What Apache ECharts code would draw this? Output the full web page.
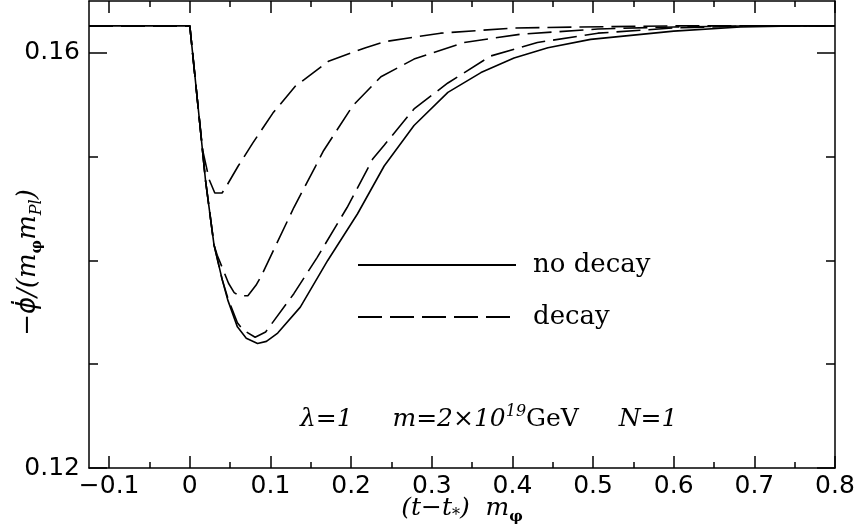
<!DOCTYPE html>
<html>
<head>
<meta charset="utf-8">
<script src="https://cdn.jsdelivr.net/npm/echarts@6/dist/echarts.min.js"></script>
<style>
  html, body { margin: 0; padding: 0; background: #fff; }
  #myChart { width: 860px; height: 529px; }
</style>
</head>
<body>
<div id="myChart"></div>
<script>
// tick positions
const xMajor = [-0.1, 0, 0.1, 0.2, 0.3, 0.4, 0.5, 0.6, 0.7, 0.8];
const xMinor = [-0.05, 0.05, 0.15, 0.25, 0.35, 0.45, 0.55, 0.65, 0.75];
const yMajor = [0.12, 0.16];
const yMinor = [0.13, 0.14, 0.15];

// no decay (solid)
const solidT = [-0.125, 0, 0.01, 0.0195, 0.03, 0.04, 0.047, 0.059, 0.07, 0.084, 0.095, 0.109, 0.137, 0.171, 0.208, 0.241, 0.278, 0.32, 0.361, 0.402, 0.444, 0.497, 0.6, 0.683, 0.75, 0.8];
const solidV = [0.1626, 0.1626, 0.1550, 0.1477, 0.1415, 0.1382, 0.1362, 0.1336, 0.1325, 0.1320, 0.1322, 0.1330, 0.1355, 0.1400, 0.1445, 0.1491, 0.1530, 0.1562, 0.1581, 0.1595, 0.1605, 0.1613, 0.1621, 0.1625, 0.1626, 0.1626];

// decay curves (dashed)
const decayAT = [-0.125, 0, 0.01, 0.016, 0.024, 0.031, 0.04, 0.045, 0.06, 0.078, 0.103, 0.131, 0.172, 0.218, 0.243, 0.311, 0.402, 0.485, 0.6, 0.8];
const decayAV = [0.1626, 0.1626, 0.1550, 0.1506, 0.1478, 0.1465, 0.1465, 0.1471, 0.1491, 0.1513, 0.1542, 0.1568, 0.1592, 0.1605, 0.1611, 0.1619, 0.1624, 0.1625, 0.1626, 0.1626];

const decayBT = [-0.125, 0, 0.01, 0.0195, 0.03, 0.034, 0.048, 0.055, 0.061, 0.072, 0.082, 0.088, 0.129, 0.156, 0.166, 0.202, 0.237, 0.278, 0.34, 0.41, 0.506, 0.6, 0.7, 0.8];
const decayBV = [0.1626, 0.1626, 0.1550, 0.1477, 0.1415, 0.1405, 0.1378, 0.1369, 0.1366, 0.1366, 0.1376, 0.1384, 0.1451, 0.1491, 0.1506, 0.1549, 0.1577, 0.1594, 0.1610, 0.1618, 0.1623, 0.1625, 0.1626, 0.1626];

const decayCT = [-0.125, 0, 0.01, 0.0195, 0.03, 0.04, 0.047, 0.059, 0.066, 0.081, 0.094, 0.129, 0.158, 0.195, 0.227, 0.241, 0.278, 0.32, 0.373, 0.431, 0.506, 0.6, 0.7, 0.8];
const decayCV = [0.1626, 0.1626, 0.1550, 0.1477, 0.1415, 0.1382, 0.1364, 0.1340, 0.1333, 0.1326, 0.1331, 0.1368, 0.1403, 0.1451, 0.1498, 0.1511, 0.1546, 0.1571, 0.1597, 0.1610, 0.1619, 0.1624, 0.1626, 0.1626];

function pairs(t, v) {
  return t.map((x, i) => [x, v[i]]);
}

const black = '#000';
const serif = 'DejaVu Serif';
const sans = 'DejaVu Sans';
const XMIN = -0.125, XMAX = 0.8, YMIN = 0.12, YMAX = 0.165;

// one axis = one set of ticks (long or short), all on the same grid
function xAxisOf(pos, ticks, len, line) {
  return {
    type: 'value', position: pos, min: XMIN, max: XMAX,
    axisLine: { show: line, onZero: false, lineStyle: { color: black, width: 1.5 } },
    axisTick: { show: true, inside: true, length: len, customValues: ticks, lineStyle: { color: black, width: 1.5 } },
    axisLabel: { show: false },
    splitLine: { show: false }
  };
}
function yAxisOf(pos, ticks, len, line) {
  return {
    type: 'value', position: pos, min: YMIN, max: YMAX,
    axisLine: { show: line, onZero: false, lineStyle: { color: black, width: 1.5 } },
    axisTick: { show: true, inside: true, length: len, customValues: ticks, lineStyle: { color: black, width: 1.5 } },
    axisLabel: { show: false },
    splitLine: { show: false }
  };
}

const xMain = xAxisOf('bottom', xMajor, 12, true);
xMain.axisLabel = {
  show: true, customValues: xMajor, margin: 6,
  fontFamily: sans, fontSize: 25, color: black,
  formatter: v => (v < 0 ? '\u2212' + (-v) : String(v))
};
xMain.name = '{i|(t\u2212t}{sub|*}{i|)  m}{subb|\u03c6}';
xMain.nameLocation = 'middle';
xMain.nameGap = 24;
xMain.nameMoveOverlap = false;
xMain.nameTextStyle = {
  rich: {
    i: { fontFamily: serif, fontStyle: 'italic', fontSize: 25, color: black },
    sub: { fontFamily: serif, fontSize: 16, color: black, padding: [14, 0, 0, 0] },
    subb: { fontFamily: serif, fontWeight: 'bold', fontSize: 15, color: black, padding: [18, 0, 0, 0] }
  }
};

const yMain = yAxisOf('left', yMajor, 18, true);
yMain.axisLabel = {
  show: true, customValues: yMajor, margin: 9,
  fontFamily: sans, fontSize: 25, color: black
};
yMain.name = '{i|\u2212}{phi|\u03d5\u0307}{i|/(m}{subb|\u03c6}{i|m}{sub|Pl}{i|)}';
yMain.nameLocation = 'middle';
yMain.nameRotate = 90;
yMain.nameGap = 44;
yMain.nameMoveOverlap = false;
yMain.nameTextStyle = {
  padding: [0, 56, 0, 0],
  rich: {
    i: { fontFamily: serif, fontStyle: 'italic', fontSize: 26, color: black },
    phi: { fontFamily: sans, fontStyle: 'italic', fontSize: 26, color: black },
    sub: { fontFamily: serif, fontStyle: 'italic', fontSize: 16, color: black, padding: [16, 0, 0, 0] },
    subb: { fontFamily: serif, fontWeight: 'bold', fontSize: 15, color: black, padding: [18, 0, 0, 0] }
  }
};

const dashed = { color: black, width: 1.6, type: [24, 8] };

let myChart = echarts.init(document.getElementById('myChart'));
myChart.setOption({
  backgroundColor: '#fff',
  animation: false,
  grid: { left: 89, right: 25, top: 1, bottom: 61, outerBoundsMode: 'none', containLabel: false },
  xAxis: [
    xMain,
    xAxisOf('bottom', xMinor, 6, false),
    xAxisOf('top', xMajor, 12, true),
    xAxisOf('top', xMinor, 6, false)
  ],
  yAxis: [
    yMain,
    yAxisOf('left', yMinor, 9, false),
    yAxisOf('right', yMajor, 18, true),
    yAxisOf('right', yMinor, 9, false)
  ],
  legend: {
    orient: 'vertical', left: 352, top: 246,
    itemWidth: 158, itemHeight: 14, itemGap: 24,
    selectedMode: false,
    data: ['no decay', 'decay'],
    itemStyle: { opacity: 0 },
    textStyle: { fontFamily: serif, fontSize: 26, color: black, lineHeight: 28, padding: [0, 0, 0, 12] }
  },
  graphic: [{
    type: 'text', left: 300, top: 404,
    style: {
      text: '{i|\u03bb=1     m=2\u00d710}{sup|19}{r|GeV}{i|     N=1}',
      rich: {
        i: { fontFamily: serif, fontStyle: 'italic', fontSize: 25, fill: black },
        sup: { fontFamily: serif, fontStyle: 'italic', fontSize: 16, fill: black, padding: [0, 0, 14, 0] },
        r: { fontFamily: serif, fontSize: 25, fill: black }
      }
    }
  }],
  series: [
    { name: 'no decay', type: 'line', symbol: 'none', itemStyle: { color: black }, data: pairs(solidT, solidV), lineStyle: { color: black, width: 1.6 } },
    { name: 'decay', type: 'line', symbol: 'none', itemStyle: { color: black }, data: pairs(decayAT, decayAV), lineStyle: dashed },
    { name: 'decay', type: 'line', symbol: 'none', itemStyle: { color: black }, data: pairs(decayBT, decayBV), lineStyle: dashed },
    { name: 'decay', type: 'line', symbol: 'none', itemStyle: { color: black }, data: pairs(decayCT, decayCV), lineStyle: dashed }
  ]
});
</script>
</body>
</html>
